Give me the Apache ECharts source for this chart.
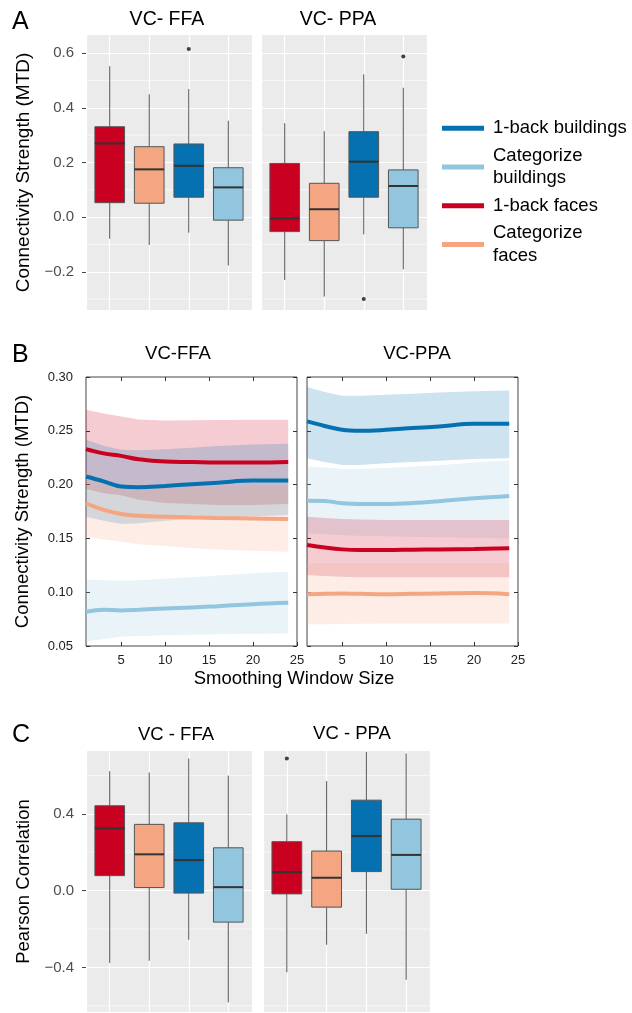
<!DOCTYPE html>
<html>
<head>
<meta charset="utf-8">
<script src="https://cdn.jsdelivr.net/npm/echarts@6/dist/echarts.min.js"></script>
<style>
html, body { margin: 0; padding: 0; background: #fff; }
#chart { width: 632px; height: 1013px; }
</style>
</head>
<body>
<div id="chart"></div>
<script>
// groups, in box order (left to right)
var groups = ['1-back faces', 'Categorize faces', '1-back buildings', 'Categorize buildings'];
var groupColors = ['#ca0020', '#f4a582', '#0571b0', '#92c5de'];

// A: connectivity strength (MTD), rows = groups, [min, q1, median, q3, max]
var mtdFfa = [
    [-0.079, 0.053, 0.270, 0.331, 0.553],
    [-0.102, 0.051, 0.175, 0.258, 0.450],
    [-0.057, 0.073, 0.188, 0.268, 0.469],
    [-0.177, -0.011, 0.109, 0.181, 0.353]
];
var mtdFfaOut = [[3, 0.616]];
var mtdPpa = [
    [-0.230, -0.053, -0.005, 0.197, 0.344],
    [-0.291, -0.086, 0.029, 0.124, 0.315],
    [-0.063, 0.073, 0.203, 0.313, 0.523],
    [-0.191, -0.039, 0.114, 0.173, 0.474]
];
var mtdPpaOut = [[3, -0.300], [4, 0.588]];

// C: pearson correlation
var corrFfa = [
    [-0.377, 0.078, 0.324, 0.442, 0.622],
    [-0.365, 0.016, 0.189, 0.345, 0.615],
    [-0.256, -0.013, 0.159, 0.353, 0.688],
    [-0.582, -0.164, 0.018, 0.223, 0.599]
];
var corrFfaOut = [];
var corrPpa = [
    [-0.425, -0.017, 0.096, 0.255, 0.397],
    [-0.282, -0.086, 0.067, 0.206, 0.570],
    [-0.225, 0.099, 0.284, 0.471, 0.722],
    [-0.464, 0.007, 0.186, 0.372, 0.714]
];
var corrPpaOut = [[1, 0.688]];

// tick labels
var mtdTicks = [-0.2, 0, 0.2, 0.4, 0.6];
var mtdMinor = [-0.3, -0.1, 0.1, 0.3, 0.5];
var corrTicks = [-0.4, 0, 0.4];
var corrMinor = [-0.6, -0.2, 0.2, 0.6];
var winTicks = [5, 10, 15, 20, 25];

// B: MTD vs smoothing window size (mean and band)
var winX = [1, 3, 5, 7, 10, 13, 16, 20, 24];

var ffaFaces1bMean = [0.233, 0.229, 0.2267, 0.2235, 0.2214, 0.221, 0.2205, 0.2205, 0.221];
var ffaFaces1bLo = [0.196, 0.192, 0.190, 0.186, 0.183, 0.182, 0.181, 0.181, 0.182];
var ffaFaces1bHi = [0.2696, 0.266, 0.2633, 0.2605, 0.2596, 0.2598, 0.260, 0.2602, 0.2602];
var ffaFacesCatMean = [0.1827, 0.1765, 0.1727, 0.171, 0.1702, 0.1695, 0.169, 0.1685, 0.168];
var ffaFacesCatLo = [0.1516, 0.149, 0.147, 0.1445, 0.143, 0.141, 0.1398, 0.1385, 0.1376];
var ffaFacesCatHi = [0.2138, 0.204, 0.1984, 0.1975, 0.1974, 0.198, 0.1982, 0.1985, 0.1984];
var ffaBuild1bMean = [0.2075, 0.203, 0.1982, 0.1976, 0.1988, 0.2003, 0.2018, 0.2037, 0.2037];
var ffaBuild1bLo = [0.1702, 0.1665, 0.1634, 0.164, 0.1665, 0.168, 0.1695, 0.1705, 0.1718];
var ffaBuild1bHi = [0.2416, 0.236, 0.2323, 0.232, 0.2329, 0.2342, 0.2358, 0.2372, 0.2379];
var ffaBuildCatMean = [0.0818, 0.0838, 0.083, 0.0838, 0.0849, 0.0857, 0.087, 0.0889, 0.0901];
var ffaBuildCatLo = [0.0545, 0.0565, 0.0585, 0.0592, 0.060, 0.0605, 0.061, 0.0613, 0.0616];
var ffaBuildCatHi = [0.1119, 0.111, 0.1106, 0.111, 0.1125, 0.114, 0.1155, 0.1175, 0.119];

var ppaFaces1bMean = [0.1438, 0.1415, 0.1398, 0.1392, 0.1392, 0.1395, 0.1398, 0.1402, 0.1408];
var ppaFaces1bLo = [0.1159, 0.115, 0.1143, 0.114, 0.1138, 0.1138, 0.1138, 0.1138, 0.1138];
var ppaFaces1bHi = [0.1702, 0.169, 0.168, 0.1675, 0.1672, 0.167, 0.167, 0.167, 0.1671];
var ppaFacesCatMean = [0.0982, 0.0985, 0.0988, 0.0985, 0.0982, 0.0985, 0.0988, 0.0992, 0.0982];
var ppaFacesCatLo = [0.070, 0.0703, 0.0705, 0.0707, 0.0708, 0.0709, 0.071, 0.071, 0.071];
var ppaFacesCatHi = [0.127, 0.127, 0.1269, 0.1268, 0.1268, 0.1268, 0.1268, 0.1268, 0.1268];
var ppaBuild1bMean = [0.2587, 0.2545, 0.2509, 0.250, 0.2509, 0.2525, 0.254, 0.2565, 0.2565];
var ppaBuild1bLo = [0.2246, 0.221, 0.2183, 0.2183, 0.2199, 0.221, 0.2222, 0.2238, 0.2246];
var ppaBuild1bHi = [0.2907, 0.286, 0.2826, 0.2826, 0.2835, 0.2845, 0.2855, 0.2868, 0.2875];
var ppaBuildCatMean = [0.1851, 0.1848, 0.1827, 0.182, 0.182, 0.1828, 0.1845, 0.1873, 0.1895];
var ppaBuildCatLo = [0.1548, 0.154, 0.153, 0.1525, 0.152, 0.1515, 0.151, 0.1505, 0.150];
var ppaBuildCatHi = [0.2168, 0.2158, 0.2143, 0.2145, 0.2155, 0.2168, 0.218, 0.2205, 0.2224];

var FONT = '"Liberation Sans", Arial, Helvetica, sans-serif';

function pairs(xs, ys) {
    return xs.map(function(x, i) { return [x, ys[i]]; });
}

function fmtNum(v, d) {
    return v.toFixed(d).replace('-', '\u2212');
}

// 箱线图：ggplot 风格，无须线端横线
function renderBox(params, api) {
    var x = api.value(0);
    var lo = api.coord([x, api.value(1)]);
    var q1 = api.coord([x, api.value(2)]);
    var md = api.coord([x, api.value(3)]);
    var q3 = api.coord([x, api.value(4)]);
    var hi = api.coord([x, api.value(5)]);
    var w = api.size([0.75, 0])[0];
    var color = groupColors[x - 1];
    return {
        type: 'group',
        children: [
            { type: 'line', shape: { x1: lo[0], y1: lo[1], x2: q1[0], y2: q1[1] }, style: { stroke: '#555', lineWidth: 1 } },
            { type: 'line', shape: { x1: q3[0], y1: q3[1], x2: hi[0], y2: hi[1] }, style: { stroke: '#555', lineWidth: 1 } },
            { type: 'rect', shape: { x: q3[0] - w / 2, y: q3[1], width: w, height: q1[1] - q3[1] },
              style: { fill: color, stroke: '#555', lineWidth: 1 } },
            { type: 'line', shape: { x1: md[0] - w / 2, y1: md[1], x2: md[0] + w / 2, y2: md[1] },
              style: { stroke: '#333', lineWidth: 2 } }
        ]
    };
}

// 次网格线
function renderMinor(params, api) {
    var p = api.coord([api.value(0), api.value(1)]);
    var cs = params.coordSys;
    return {
        type: 'line',
        shape: { x1: cs.x, y1: p[1], x2: cs.x + cs.width, y2: p[1] },
        style: { stroke: '#fff', lineWidth: 0.6 }
    };
}

// 置信带：上沿 + 下沿 组成一个多边形
function bandRenderer(color, lo, hi) {
    return function(params, api) {
        if (params.dataIndex !== 0) return null;
        var pts = [];
        var i;
        for (i = 0; i < winX.length; i++) pts.push(api.coord([winX[i], hi[i]]));
        for (i = winX.length - 1; i >= 0; i--) pts.push(api.coord([winX[i], lo[i]]));
        return {
            type: 'polygon',
            shape: { points: pts },
            style: { fill: echarts.color.modifyAlpha(color, 0.2) }
        };
    };
}

function boxData(rows) {
    return rows.map(function(r, i) { return [i + 1].concat(r); });
}

function ggX(gi) {
    return {
        type: 'value', gridIndex: gi, min: 0.4, max: 4.6, minInterval: 1, maxInterval: 1,
        axisLine: { show: false }, axisTick: { show: false }, axisLabel: { show: false },
        splitLine: { show: true, lineStyle: { color: '#fff', width: 1.2 } }
    };
}

function ggY(gi, min, max, step, ticks, labels, name) {
    return {
        type: 'value', gridIndex: gi, min: min, max: max, minInterval: step, maxInterval: step,
        name: name, nameLocation: 'middle', nameGap: 53,
        nameTextStyle: { fontSize: name === 'Pearson Correlation' ? 18.5 : 19, color: '#000', fontFamily: FONT },
        axisLine: { show: false },
        axisTick: { show: labels, length: 4, lineStyle: { color: '#444' }, customValues: ticks },
        axisLabel: {
            show: labels, customValues: ticks, margin: 12, fontSize: 15, color: '#4d4d4d', fontFamily: FONT,
            formatter: function(v) {
                var r = Math.round(v / step);
                if (Math.abs(v - r * step) > 1e-6) return '';
                return fmtNum(r * step, 1);
            }
        },
        splitLine: { show: true, lineStyle: { color: '#fff', width: 1.2 } }
    };
}

function bX(gi, pos) {
    var bottom = pos === 'bottom';
    return {
        type: 'value', gridIndex: gi, position: pos, min: 1, max: 25, minInterval: 5, maxInterval: 5,
        axisLine: { show: false },
        axisTick: { show: true, inside: true, length: 4, lineStyle: { color: '#333' },
                    customValues: bottom ? winTicks : winTicks.slice(0, 4) },
        axisLabel: { show: bottom, customValues: winTicks, margin: 8, fontSize: 13, color: '#222', fontFamily: FONT },
        splitLine: { show: false }
    };
}

function bY(gi, pos, labels, name) {
    return {
        type: 'value', gridIndex: gi, position: pos, min: 0.05, max: 0.30, interval: 0.05,
        name: name, nameLocation: 'middle', nameGap: 54,
        nameTextStyle: { fontSize: 18.5, color: '#000', fontFamily: FONT },
        axisLine: { show: false },
        axisTick: { show: true, inside: true, length: 4, lineStyle: { color: '#333' } },
        axisLabel: { show: labels, margin: 13, fontSize: 13, color: '#222', fontFamily: FONT,
                     formatter: function(v) { return v.toFixed(2); } },
        splitLine: { show: false }
    };
}

var series = [];

function addBoxFacet(name, xi, yi, rows, outliers, minor) {
    series.push({
        type: 'custom', name: name + ' grid', xAxisIndex: xi, yAxisIndex: yi, z: 1, silent: true,
        renderItem: renderMinor, data: minor.map(function(v) { return [0.4, v]; })
    });
    series.push({
        type: 'custom', name: name, xAxisIndex: xi, yAxisIndex: yi, z: 3,
        renderItem: renderBox, data: boxData(rows), encode: { x: 0, y: [1, 2, 3, 4, 5] }
    });
    series.push({
        type: 'scatter', name: name + ' outliers', xAxisIndex: xi, yAxisIndex: yi, z: 4,
        symbolSize: 4, itemStyle: { color: '#111' }, data: outliers
    });
}

addBoxFacet('MTD VC-FFA', 0, 0, mtdFfa, mtdFfaOut, mtdMinor);
addBoxFacet('MTD VC-PPA', 1, 1, mtdPpa, mtdPpaOut, mtdMinor);
addBoxFacet('Corr VC-FFA', 6, 6, corrFfa, corrFfaOut, corrMinor);
addBoxFacet('Corr VC-PPA', 7, 7, corrPpa, corrPpaOut, corrMinor);

function addBand(name, idx, color, lo, hi) {
    series.push({
        type: 'custom', name: name + ' band', xAxisIndex: idx, yAxisIndex: idx, z: 2, silent: true,
        renderItem: bandRenderer(color, lo, hi),
        data: winX.map(function(x, i) { return [x, lo[i], hi[i]]; }),
        encode: { x: 0, y: [1, 2] }
    });
}

function addMean(name, idx, color, mean) {
    series.push({
        type: 'line', name: name, xAxisIndex: idx, yAxisIndex: idx,
        data: pairs(winX, mean), symbol: 'none', smooth: 0.4, z: 3,
        itemStyle: { color: color }, lineStyle: { color: color, width: 4 }
    });
}

// 左：VC-FFA
addBand('1-back faces', 2, groupColors[0], ffaFaces1bLo, ffaFaces1bHi);
addBand('1-back buildings', 2, groupColors[2], ffaBuild1bLo, ffaBuild1bHi);
addBand('Categorize faces', 2, groupColors[1], ffaFacesCatLo, ffaFacesCatHi);
addBand('Categorize buildings', 2, groupColors[3], ffaBuildCatLo, ffaBuildCatHi);
addMean('Categorize buildings', 2, groupColors[3], ffaBuildCatMean);
addMean('Categorize faces', 2, groupColors[1], ffaFacesCatMean);
addMean('1-back buildings', 2, groupColors[2], ffaBuild1bMean);
addMean('1-back faces', 2, groupColors[0], ffaFaces1bMean);
// 右：VC-PPA
addBand('1-back buildings', 3, groupColors[2], ppaBuild1bLo, ppaBuild1bHi);
addBand('Categorize buildings', 3, groupColors[3], ppaBuildCatLo, ppaBuildCatHi);
addBand('1-back faces', 3, groupColors[0], ppaFaces1bLo, ppaFaces1bHi);
addBand('Categorize faces', 3, groupColors[1], ppaFacesCatLo, ppaFacesCatHi);
addMean('Categorize faces', 3, groupColors[1], ppaFacesCatMean);
addMean('1-back faces', 3, groupColors[0], ppaFaces1bMean);
addMean('Categorize buildings', 3, groupColors[3], ppaBuildCatMean);
addMean('1-back buildings', 3, groupColors[2], ppaBuild1bMean);

function title(text, left, top, size) {
    return {
        text: text, left: left, top: top, padding: 0, textAlign: size > 22 ? 'left' : 'center',
        textStyle: { fontSize: size, fontWeight: 'normal', color: '#000', fontFamily: FONT }
    };
}

var ggGrid = { show: true, backgroundColor: '#ebebeb', borderWidth: 0 };
var bGrid = { show: true, backgroundColor: '#fff', borderColor: '#444', borderWidth: 1 };

var option = {
    animation: false,
    textStyle: { fontFamily: FONT },
    title: [
        title('A', 12, 10, 25),
        title('VC- FFA', 167, 9.5, 19.5),
        title('VC- PPA', 338, 9.5, 19.5),
        title('B', 12, 342.5, 25),
        title('VC-FFA', 178, 344.5, 18.5),
        title('VC-PPA', 417, 344.5, 18.5),
        title('Smoothing Window Size', 294, 669.5, 18.5),
        title('C', 12, 723, 25),
        title('VC - FFA', 176, 725.5, 18.5),
        title('VC - PPA', 352, 724.5, 18.5)
    ],
    legend: {
        orient: 'vertical', left: 442, top: 117, padding: 0, itemGap: 5,
        itemWidth: 42, itemHeight: 5, icon: 'rect', selectedMode: false,
        data: ['1-back buildings', 'Categorize buildings', '1-back faces', 'Categorize faces'],
        formatter: function(name) { return name.replace('Categorize ', 'Categorize\n'); },
        textStyle: { fontSize: 18.5, lineHeight: 22.5, color: '#000', fontFamily: FONT, padding: [0, 0, 0, 4] }
    },
    grid: [
        Object.assign({ left: 86, top: 35, width: 166, height: 275 }, ggGrid),
        Object.assign({ left: 261, top: 35, width: 166, height: 275 }, ggGrid),
        Object.assign({ left: 86, top: 377, width: 211, height: 269 }, bGrid),
        Object.assign({ left: 307, top: 377, width: 211, height: 269 }, bGrid),
        Object.assign({ left: 86, top: 751, width: 166, height: 261 }, ggGrid),
        Object.assign({ left: 263, top: 751, width: 167, height: 261 }, ggGrid)
    ],
    xAxis: [
        ggX(0), ggX(1),
        bX(2, 'bottom'), bX(3, 'bottom'), bX(2, 'top'), bX(3, 'top'),
        ggX(4), ggX(5)
    ],
    yAxis: [
        ggY(0, -0.34, 0.667, 0.2, mtdTicks, true, 'Connectivity Strength (MTD)'),
        ggY(1, -0.34, 0.667, 0.2, mtdTicks, false, ''),
        bY(2, 'left', true, 'Connectivity Strength (MTD)'),
        bY(3, 'left', false, ''),
        bY(2, 'right', false, ''),
        bY(3, 'right', false, ''),
        ggY(4, -0.632, 0.727, 0.4, corrTicks, true, 'Pearson Correlation'),
        ggY(5, -0.632, 0.727, 0.4, corrTicks, false, '')
    ],
    series: series
};

var chart = echarts.init(document.getElementById('chart'), null, { renderer: 'canvas' });
chart.setOption(option);
</script>
</body>
</html>
